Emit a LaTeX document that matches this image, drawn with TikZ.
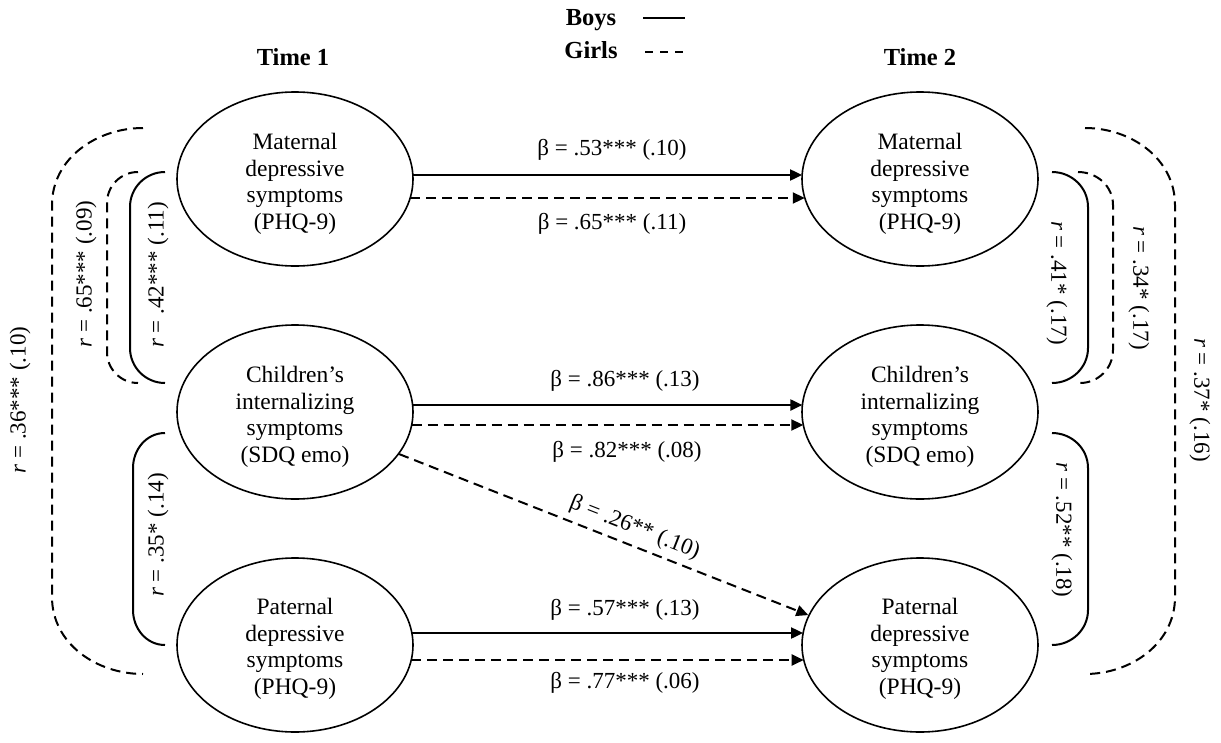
\documentclass[tikz,border=0pt]{standalone}
\usepackage{fontspec}
\setmainfont{Liberation Serif}
\usetikzlibrary{arrows.meta,shapes.geometric,calc}
\begin{document}
\begin{tikzpicture}[x=1pt,y=1pt,
  var/.style={ellipse,draw,line width=1.6pt,minimum width=236pt,minimum height=174pt,inner sep=0pt},
  vtext/.style={align=center,inner sep=0pt,font=\fontsize{23.5}{26.5}\selectfont},
  lbl/.style={font=\fontsize{23}{26}\selectfont,inner sep=1pt},
  hdr/.style={font=\fontsize{24.5}{28}\selectfont\bfseries},
  boys/.style={line width=2pt},
  girls/.style={line width=2pt,dash pattern=on 10pt off 6pt},
  arr/.style={-{Triangle[length=12pt,width=11pt]}},
]
\useasboundingbox (0,0) rectangle (1221,-742);

% headers and legend
\node[hdr] (t1) at (293,-57) {Time 1};
\node[hdr] (t2) at (920,-57) {Time 2};
\node[hdr] (boys) at (591,-20) {Boys};
\node[hdr] (girls) at (591,-50) {Girls};
\coordinate (b1) at (643,-18); \coordinate (b2) at (685,-18);
\coordinate (g1) at (645,-52); \coordinate (g2) at (685,-52);
\draw[boys] (b1) -- (b2);
\draw[line width=2pt,dash pattern=on 8pt off 7pt] (g1) -- (g2);

% variables
\node[var] (m1) at (295,-179) {};
\node[var] (c1) at (295,-412) {};
\node[var] (p1) at (295,-645) {};
\node[var] (m2) at (920,-179) {};
\node[var] (c2) at (920,-412) {};
\node[var] (p2) at (920,-645) {};
\node[vtext] (m1t) at ($(m1.center)+(0,-5)$) {Maternal\\depressive\\symptoms\\(PHQ-9)};
\node[vtext] (c1t) at ($(c1.center)+(0,-5)$) {Children’s\\internalizing\\symptoms\\(SDQ emo)};
\node[vtext] (p1t) at ($(p1.center)+(0,-4)$) {Paternal\\depressive\\symptoms\\(PHQ-9)};
\node[vtext] (m2t) at ($(m2.center)+(0,-5)$) {Maternal\\depressive\\symptoms\\(PHQ-9)};
\node[vtext] (c2t) at ($(c2.center)+(0,-5)$) {Children’s\\internalizing\\symptoms\\(SDQ emo)};
\node[vtext] (p2t) at ($(p2.center)+(0,-4)$) {Paternal\\depressive\\symptoms\\(PHQ-9)};

% stability paths
\draw[boys,arr] ($(m1.center)+(117.9,4)$) -- ($(m2.center)+(-117.9,4)$);
\draw[girls,arr] ($(m1.center)+(115.2,-19)$) -- ($(m2.center)+(-115.2,-19)$);
\draw[boys,arr] ($(c1.center)+(117.6,7)$) -- ($(c2.center)+(-117.6,7)$);
\draw[girls,arr] ($(c1.center)+(116.7,-13)$) -- ($(c2.center)+(-116.7,-13)$);
\draw[boys,arr] ($(p1.center)+(116.9,12)$) -- ($(p2.center)+(-116.9,12)$);
\draw[girls,arr] ($(p1.center)+(116.3,-15)$) -- ($(p2.center)+(-116.3,-15)$);
\draw[girls,arr] (c1.-22) -- (p2.165)
  node[lbl,pos=0.56,above=5pt,sloped] (b26) {β = .26** (.10)};

\node[lbl] (b53) at (612,-150) {β = .53*** (.10)};
\node[lbl] (b65) at (612,-224) {β = .65*** (.11)};
\node[lbl] (b86) at (625,-381) {β = .86*** (.13)};
\node[lbl] (b82) at (627,-452) {β = .82*** (.08)};
\node[lbl] (b57) at (625,-610) {β = .57*** (.13)};
\node[lbl] (b77) at (625,-683) {β = .77*** (.06)};

% correlations, Time 1
\draw[boys] (165,-172) to[out=180,in=90] (130,-207) -- (130,-348) to[out=-90,in=180] (165,-383);
\draw[girls] (138,-172) to[out=180,in=90] (107,-203) -- (107,-352) to[out=-90,in=180] (138,-383);
\draw[girls] (143,-128) to[out=180,in=90] (52,-205) -- (52,-597) to[out=-90,in=180] (143,-674);
\draw[boys] (165,-433) to[out=180,in=90] (133,-468) -- (133,-610) to[out=-90,in=180] (165,-645);
% correlations, Time 2
\draw[boys] (1052,-172) to[out=0,in=90] (1088,-207) -- (1088,-348) to[out=-90,in=0] (1052,-383);
\draw[girls] (1078,-172) to[out=0,in=90] (1113,-205) -- (1113,-350) to[out=-90,in=0] (1080,-383);
\draw[girls] (1085,-128) to[out=0,in=90] (1175,-205) -- (1175,-597) to[out=-90,in=0] (1085,-674);
\draw[boys] (1052,-433) to[out=0,in=90] (1088,-468) -- (1088,-610) to[out=-90,in=0] (1052,-645);

\node[lbl,rotate=90] (r42) at (158,-275) {\textit{r} = .42*** (.11)};
\node[lbl,rotate=90] (r65) at (86,-274) {\textit{r} = .65*** (.09)};
\node[lbl,rotate=90] (r36) at (20,-400) {\textit{r} = .36*** (.10)};
\node[lbl,rotate=90] (r35) at (158,-535) {\textit{r} = .35* (.14)};
\node[lbl,rotate=-90] (r41) at (1057,-283) {\textit{r} = .41* (.17)};
\node[lbl,rotate=-90] (r34) at (1139,-288) {\textit{r} = .34* (.17)};
\node[lbl,rotate=-90] (r37) at (1200,-400) {\textit{r} = .37* (.16)};
\node[lbl,rotate=-90] (r52) at (1062,-530) {\textit{r} = .52** (.18)};
\end{tikzpicture}
\end{document}
